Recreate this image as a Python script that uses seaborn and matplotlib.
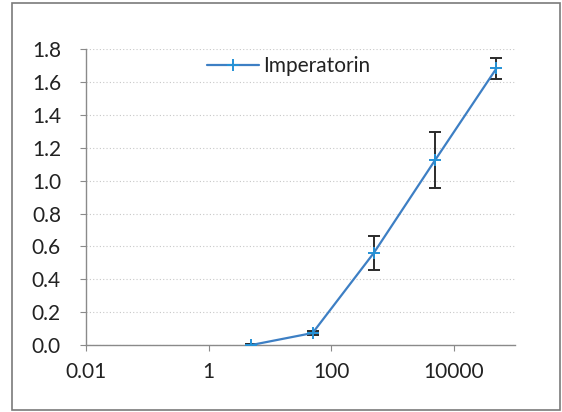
import matplotlib
matplotlib.use("Agg")
import matplotlib.pyplot as plt
from matplotlib.patches import Rectangle
from matplotlib.ticker import FixedLocator, FixedFormatter, NullLocator
import numpy as np
import pandas as pd
import seaborn as sns

# Concentration series and measured response
concentration = [5, 50, 500, 5000, 50000]
response = [0.0, 0.073, 0.561, 1.126, 1.684]
response_err = [0.004, 0.010, 0.105, 0.170, 0.063]
series_name = "Imperatorin"

x_ticks = [0.01, 1, 100, 10000]
x_tick_labels = ["0.01", "1", "100", "10000"]
y_ticks = [0.0, 0.2, 0.4, 0.6, 0.8, 1.0, 1.2, 1.4, 1.6, 1.8]
y_tick_labels = ["0.0", "0.2", "0.4", "0.6", "0.8", "1.0", "1.2", "1.4", "1.6", "1.8"]

sns.set_theme(style="white")
plt.rcParams["font.family"] = ["Lato", "DejaVu Sans"]

df = pd.DataFrame({"conc": concentration, "resp": response, "series": series_name})

fig = plt.figure(figsize=(5.62, 4.12), dpi=100)
ax = fig.add_axes([0.153, 0.1626, 0.763, 0.7174])

line_color = "#3d7fc4"
marker_color = "#2592d6"

ax.errorbar(concentration, response, yerr=response_err, fmt="none",
            ecolor="#2b2b2b", elinewidth=1.4, capsize=4, capthick=1.4, zorder=2)
sns.lineplot(data=df, x="conc", y="resp", hue="series", palette=[line_color],
             marker="+", markersize=8, markeredgewidth=1.4,
             markeredgecolor=marker_color, linewidth=1.6, ax=ax, zorder=3)

ax.set_xscale("log")
ax.set_xlim(0.01, 1e5)
ax.set_ylim(0, 1.8)
ax.xaxis.set_major_locator(FixedLocator(x_ticks))
ax.xaxis.set_major_formatter(FixedFormatter(x_tick_labels))
ax.xaxis.set_minor_locator(NullLocator())
ax.yaxis.set_major_locator(FixedLocator(y_ticks))
ax.yaxis.set_major_formatter(FixedFormatter(y_tick_labels))

ax.set_xlabel("")
ax.set_ylabel("")

ax.yaxis.grid(True, color="#c8c8c8", linestyle=(0, (1, 2)), linewidth=0.8)
ax.xaxis.grid(False)
ax.set_axisbelow(True)

for side in ("top", "right"):
    ax.spines[side].set_visible(False)
for side in ("left", "bottom"):
    ax.spines[side].set_color("#8a8a8a")
    ax.spines[side].set_linewidth(1.0)

ax.tick_params(axis="y", which="major", left=True, length=4, width=0.8,
               color="#8a8a8a", pad=14, labelsize=15, labelcolor="#222222")
ax.tick_params(axis="x", which="major", bottom=True, length=4, width=0.8,
               color="#8a8a8a", pad=8, labelsize=15, labelcolor="#222222")

leg = ax.legend(loc="upper left", bbox_to_anchor=(0.255, 1.015), frameon=False,
                fontsize=15, handlelength=2.5, handletextpad=0.2,
                borderaxespad=0.15)
for txt in leg.get_texts():
    txt.set_color("#222222")

fig.patches.append(Rectangle((12 / 562, 2 / 412), 548 / 562, 407 / 412,
                             transform=fig.transFigure, fill=False,
                             edgecolor="#7a7a7a", linewidth=1.2))

fig.savefig("out.png", dpi=100, facecolor="white")
